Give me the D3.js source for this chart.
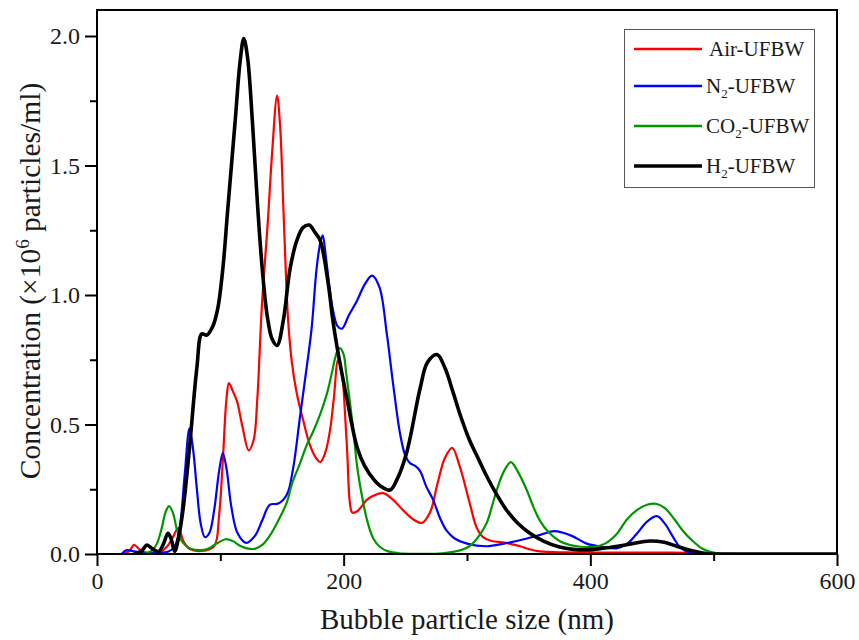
<!DOCTYPE html>
<html>
<head>
<meta charset="utf-8">
<script src="https://cdn.jsdelivr.net/npm/d3@7"></script>
<style>
  body { margin: 0; background: #fff; }
  svg { display: block; font-family: "Liberation Serif", "Times New Roman", serif; }
</style>
</head>
<body>
<div id="chart"></div>
<script>
// values (size in nm, concentration in 10^6 particles/ml)
const airSize = [20, 26, 30, 34, 38, 45, 52, 57, 61, 66, 70, 75, 85, 95, 99, 102, 105, 107, 110, 113.5, 118, 123, 127, 130, 133.6, 138.6, 142, 146, 148.5, 151, 153, 155, 158, 162, 167, 172, 177, 181, 185, 189, 192, 195.5, 199, 201, 203, 205, 207, 211, 219, 224, 232, 240, 248, 256, 263.5, 270, 276, 282, 288, 294, 302, 308, 313, 320, 329, 336, 343, 351, 359, 380, 420, 460, 480, 490, 600];
const airConc = [0, 0.01, 0.035, 0.02, 0.005, 0.005, 0.01, 0.03, 0.06, 0.10, 0.05, 0.02, 0.012, 0.03, 0.15, 0.36, 0.6, 0.66, 0.63, 0.59, 0.49, 0.40, 0.44, 0.6, 0.95, 1.29, 1.55, 1.77, 1.65, 1.35, 1.1, 0.9, 0.74, 0.62, 0.52, 0.43, 0.375, 0.355, 0.39, 0.48, 0.6, 0.75, 0.68, 0.55, 0.38, 0.2, 0.16, 0.165, 0.21, 0.225, 0.235, 0.21, 0.17, 0.135, 0.12, 0.16, 0.27, 0.37, 0.41, 0.34, 0.2, 0.1, 0.065, 0.05, 0.045, 0.038, 0.03, 0.018, 0.01, 0.006, 0.005, 0.005, 0.004, 0, 0];

const n2Size = [20, 24, 30, 40, 50, 58, 63, 67, 71, 75, 78, 81, 84, 87.5, 91, 95, 99, 102, 105, 109, 114, 121, 128, 134, 140, 147, 154, 159, 164.6, 170, 174, 178, 181, 183, 185.5, 188, 191, 195, 198.6, 204, 211, 217, 223, 229, 235, 240, 245.7, 250, 254, 258, 262, 267, 272.5, 278, 283.5, 290, 300, 316, 330, 348.6, 360, 371, 385, 397, 410, 421, 430, 438, 446, 454, 460, 467, 472, 478, 485, 600];
const n2Conc = [0, 0.015, 0.01, 0.005, 0.005, 0.01, 0.03, 0.1, 0.3, 0.485, 0.4, 0.25, 0.12, 0.065, 0.08, 0.17, 0.32, 0.39, 0.33, 0.18, 0.08, 0.043, 0.07, 0.13, 0.19, 0.195, 0.23, 0.33, 0.53, 0.72, 0.87, 1.1, 1.2, 1.23, 1.15, 1.05, 0.95, 0.88, 0.87, 0.92, 0.98, 1.04, 1.075, 1.03, 0.85, 0.66, 0.465, 0.38, 0.35, 0.34, 0.32, 0.26, 0.21, 0.14, 0.09, 0.06, 0.04, 0.03, 0.04, 0.06, 0.075, 0.088, 0.07, 0.04, 0.028, 0.022, 0.04, 0.08, 0.125, 0.146, 0.12, 0.066, 0.03, 0.01, 0, 0];

const co2Size = [30, 40, 45, 48.6, 52.5, 55.5, 58.4, 61.5, 65, 68, 71.5, 76, 83.5, 90, 97, 104, 110, 116, 121.6, 128, 134, 140, 146, 154, 158, 164.6, 170, 175, 181, 186.5, 190, 194.6, 197, 200, 202, 205, 208, 211, 215, 219, 224, 229.5, 236, 245, 260, 280, 295, 302, 309, 316, 320, 324, 330, 335.6, 341, 348.6, 354, 359, 366, 375, 383, 392, 402, 412, 421, 430, 438, 446, 454, 461, 468, 475, 483, 491, 498, 505, 520, 600];
const co2Conc = [0, 0.003, 0.015, 0.04, 0.1, 0.16, 0.185, 0.16, 0.09, 0.055, 0.035, 0.02, 0.015, 0.02, 0.04, 0.057, 0.05, 0.032, 0.022, 0.02, 0.035, 0.07, 0.12, 0.2, 0.27, 0.35, 0.42, 0.47, 0.54, 0.62, 0.69, 0.78, 0.795, 0.77, 0.7, 0.59, 0.47, 0.335, 0.22, 0.13, 0.06, 0.027, 0.01, 0.003, 0.001, 0.003, 0.015, 0.03, 0.065, 0.12, 0.18, 0.245, 0.32, 0.355, 0.32, 0.245, 0.18, 0.13, 0.085, 0.05, 0.035, 0.028, 0.027, 0.04, 0.075, 0.135, 0.17, 0.19, 0.193, 0.175, 0.135, 0.09, 0.05, 0.02, 0.007, 0.002, 0, 0];

const h2Size = [30, 36, 40.5, 45, 50, 54, 57.5, 60, 63, 66, 70, 75, 81, 85, 89, 94, 98, 102, 106, 112, 116, 119, 122, 126, 130, 134, 138, 142, 146, 151, 156.5, 162, 167, 172, 177, 181, 187.6, 191, 194.6, 203, 211, 217, 224, 230, 237.6, 243, 251, 262, 268, 275.7, 282, 289, 295, 302, 309, 316, 324, 332, 341, 351, 362, 375, 386, 397, 410, 422, 434, 448, 460, 470, 480, 490, 497, 510, 600];
const h2Conc = [0, 0.01, 0.035, 0.02, 0.01, 0.04, 0.08, 0.06, 0.01, 0.06, 0.18, 0.41, 0.72, 0.85, 0.845, 0.88, 0.95, 1.1, 1.33, 1.67, 1.9, 1.99, 1.92, 1.67, 1.36, 1.1, 0.92, 0.83, 0.805, 0.9, 1.1, 1.21, 1.26, 1.27, 1.24, 1.21, 1.04, 0.91, 0.8, 0.59, 0.41, 0.34, 0.29, 0.262, 0.247, 0.285, 0.39, 0.64, 0.74, 0.77, 0.72, 0.62, 0.53, 0.44, 0.37, 0.30, 0.23, 0.17, 0.12, 0.08, 0.05, 0.027, 0.018, 0.016, 0.022, 0.03, 0.04, 0.05, 0.045, 0.03, 0.015, 0.005, 0, 0, 0];

const seriesNames = ["Air", "N2", "CO2", "H2"];
const seriesColors = ["#ff0000", "#0000ff", "#009600", "#000000"];
const seriesWidths = [2.2, 2.2, 2.2, 3.6];
const xTicks = [0, 200, 400, 600];
const xMinor = [100, 300, 500];
const yTicks = [0, 0.5, 1.0, 1.5, 2.0];
const yMinor = [0.25, 0.75, 1.25, 1.75];

const width = 859, height = 640;
const margin = { top: 10, right: 22, bottom: 86, left: 97 };
const innerW = width - margin.left - margin.right;
const innerH = height - margin.top - margin.bottom;

const svg = d3.select("#chart").append("svg")
  .attr("width", width)
  .attr("height", height);

const g = svg.append("g")
  .attr("transform", `translate(${margin.left},${margin.top})`);

const x = d3.scaleLinear().domain([0, 600]).range([0, innerW]);
// 2.0 sits a little below the frame top
const y = d3.scaleLinear().domain([0, 2.0]).range([innerH, innerH - 518]);

const series = [
  { size: airSize, conc: airConc },
  { size: n2Size, conc: n2Conc },
  { size: co2Size, conc: co2Conc },
  { size: h2Size, conc: h2Conc }
];

const line = d3.line()
  .x(d => x(d[0]))
  .y(d => y(d[1]))
  .curve(d3.curveCatmullRom.alpha(0.5));

g.append("clipPath").attr("id", "clip")
  .append("rect").attr("width", innerW).attr("height", innerH);

const plot = g.append("g").attr("clip-path", "url(#clip)");
series.forEach((s, i) => {
  const pts = s.size.map((v, k) => [v, s.conc[k]]);
  plot.append("path")
    .attr("d", line(pts))
    .attr("fill", "none")
    .attr("stroke", seriesColors[i])
    .attr("stroke-width", seriesWidths[i])
    .attr("stroke-linejoin", "round");
});

// frame
g.append("rect")
  .attr("width", innerW)
  .attr("height", innerH)
  .attr("fill", "none")
  .attr("stroke", "#000")
  .attr("stroke-width", 2);

// x axis
g.append("g").attr("transform", `translate(0,${innerH})`)
  .call(d3.axisBottom(x).tickValues(xTicks).tickSize(12).tickPadding(6).tickFormat(d3.format("d")));
g.append("g").attr("transform", `translate(0,${innerH})`)
  .call(d3.axisBottom(x).tickValues(xMinor).tickSize(7).tickFormat(""));

// y axis
g.append("g")
  .call(d3.axisLeft(y).tickValues(yTicks).tickSize(12).tickPadding(5).tickFormat(d3.format(".1f")));
g.append("g")
  .call(d3.axisLeft(y).tickValues(yMinor).tickSize(7).tickFormat(""));

g.selectAll(".domain").remove();
g.selectAll(".tick line").attr("stroke", "#000").attr("stroke-width", 2);
g.selectAll(".tick text")
  .attr("fill", "#1a1a1a")
  .style("font-family", "Liberation Serif")
  .style("font-size", "24px");

// axis titles
svg.append("text")
  .attr("x", margin.left + x(300))
  .attr("y", 629)
  .attr("text-anchor", "middle")
  .attr("fill", "#1a1a1a")
  .style("font-size", "29px")
  .text("Bubble particle size (nm)");

const yTitle = svg.append("text")
  .attr("transform", `translate(40,${281}) rotate(-90)`)
  .attr("text-anchor", "middle")
  .attr("fill", "#1a1a1a")
  .style("font-size", "29.5px");
yTitle.append("tspan").text("Concentration (\u00d710");
yTitle.append("tspan").attr("dy", -11).style("font-size", "19px").text("6");
yTitle.append("tspan").attr("dy", 11).text(" particles/ml)");

// legend
const legend = svg.append("g");
legend.append("rect")
  .attr("x", 624.5).attr("y", 29.5)
  .attr("width", 190).attr("height", 158)
  .attr("fill", "#fff")
  .attr("stroke", "#555")
  .attr("stroke-width", 1);

const legendY = [49, 86, 126, 166];
seriesNames.forEach((name, i) => {
  const ly = legendY[i];
  legend.append("line")
    .attr("x1", 634).attr("x2", 702)
    .attr("y1", ly).attr("y2", ly)
    .attr("stroke", seriesColors[i])
    .attr("stroke-width", i === 3 ? 3.4 : 2.4);
  const t = legend.append("text")
    .attr("x", i === 0 ? 709 : 706)
    .attr("y", ly + 7)
    .attr("fill", "#1a1a1a")
    .style("font-size", "21px");
  if (name === "Air") {
    t.text("Air-UFBW");
  } else {
    t.append("tspan").text(name.slice(0, -1));
    t.append("tspan").attr("dy", 5).style("font-size", "13px").text("2");
    t.append("tspan").attr("dy", -5).text("-UFBW");
  }
});
</script>
</body>
</html>
